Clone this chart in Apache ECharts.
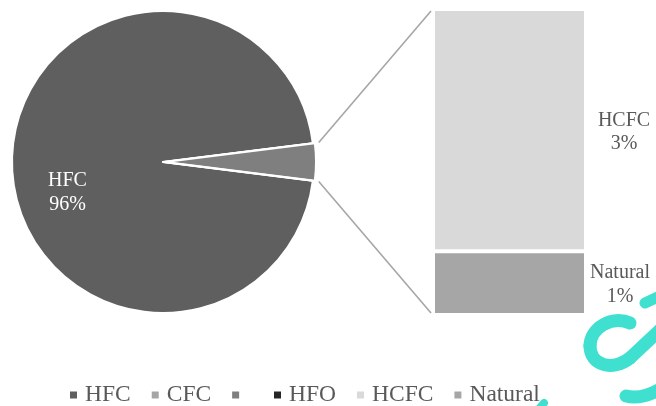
<!DOCTYPE html>
<html>
<head>
<meta charset="utf-8">
<script src="https://cdn.jsdelivr.net/npm/echarts@6/dist/echarts.min.js"></script>
<style>
  html, body { margin: 0; padding: 0; background: #ffffff; }
  #chart { width: 656px; height: 406px; }
</style>
</head>
<body>
<div id="chart"></div>
<script>
// Refrigerant shares (percent of total)
const pieNames = ['HFC', 'CFC', ' ', 'HFO'];
const hfcShare = 96.02;
const cfcShare = 0;
const hfoShare = 0;

// Breakdown of the combined slice, shown as the stacked column
const barNames = ['HCFC', 'Natural'];
const hcfcShare = 3.15;
const naturalShare = 0.83;

const legendOrder = ['HFC', 'CFC', ' ', 'HFO', 'HCFC', 'Natural'];

const colors = {
  'HFC': '#5f5f5f',
  'CFC': '#a5a5a5',
  ' ': '#7f7f7f',
  'HFO': '#262626',
  'HCFC': '#d9d9d9',
  'Natural': '#a6a6a6'
};

const otherShare = hcfcShare + naturalShare;
const total = hfcShare + cfcShare + otherShare + hfoShare;

// Layout
const pieCenter = [163, 162];
const pieRadius = 151;
const pieOffset = 2;
const barBorder = 2;
const grid = { left: 433, top: 9, width: 153, height: 306 };

const serif = '"Liberation Serif", "Times New Roman", serif';
const textGray = '#595959';

const halfAngle = (otherShare / total) * 180; // degrees each side of 3 o'clock

const pieValues = [hfcShare, cfcShare, otherShare, hfoShare];
const pieData = pieNames.map((name, i) => ({
  name: name,
  value: pieValues[i],
  selected: name === ' ',
  itemStyle: { color: colors[name] },
  label: { show: name === 'HFC' }
}));

const chart = echarts.init(document.getElementById('chart'), null, { renderer: 'canvas' });

// Connector lines from the combined slice to the column
const rad = halfAngle * Math.PI / 180;
const startR = pieRadius + 6;
const sx = pieCenter[0] + startR * Math.cos(rad);
const syTop = pieCenter[1] - startR * Math.sin(rad);
const syBot = pieCenter[1] + startR * Math.sin(rad);
const barLeft = grid.left + barBorder;
const barTop = grid.top + barBorder;
const barBottom = grid.top + grid.height - barBorder;

const teal = '#40e0d0';
const markStroke = w => ({ stroke: teal, lineWidth: w, lineCap: 'round', fill: null });

const barLabel = (distance, lineHeight) => ({
  show: true,
  position: 'right',
  distance: distance,
  offset: [0, 2],
  align: 'center',
  verticalAlign: 'middle',
  fontFamily: serif,
  fontSize: 20,
  lineHeight: lineHeight,
  color: textGray,
  formatter: p => p.seriesName + '\n' + Math.round(p.value / total * 100) + '%'
});

chart.setOption({
  animation: false,
  backgroundColor: '#ffffff',
  textStyle: { fontFamily: serif },
  legend: {
    data: legendOrder,
    left: 70,
    top: 383,
    padding: 0,
    itemWidth: 7,
    itemHeight: 7,
    itemGap: 21,
    icon: 'rect',
    selectedMode: false,
    itemStyle: { borderWidth: 0 },
    textStyle: {
      fontFamily: serif,
      fontSize: 23.5,
      color: textGray,
      lineHeight: 24,
      padding: [0, 0, 0, 3]
    }
  },
  grid: grid,
  xAxis: { type: 'category', data: ['other'], show: false },
  yAxis: { type: 'value', min: 0, max: otherShare, show: false },
  series: [
    {
      type: 'pie',
      center: pieCenter,
      radius: pieRadius,
      startAngle: -halfAngle,
      clockwise: true,
      selectedMode: 'single',
      selectedOffset: pieOffset,
      stillShowZeroSum: true,
      itemStyle: { borderColor: '#ffffff', borderWidth: 2 },
      label: {
        position: 'inside',
        fontFamily: serif,
        fontSize: 20,
        lineHeight: 24,
        color: '#ffffff',
        formatter: p => p.name + '\n' + Math.round(p.value / total * 100) + '%'
      },
      labelLayout: { dx: -17, dy: 31 },
      labelLine: { show: false },
      emphasis: { disabled: true },
      data: pieData
    },
    {
      name: 'Natural',
      type: 'bar',
      stack: 'other',
      barWidth: '100%',
      itemStyle: { color: colors['Natural'], borderColor: '#ffffff', borderWidth: barBorder },
      label: barLabel(34, 24),
      emphasis: { disabled: true },
      data: [naturalShare]
    },
    {
      name: 'HCFC',
      type: 'bar',
      stack: 'other',
      barWidth: '100%',
      itemStyle: { color: colors['HCFC'], borderColor: '#ffffff', borderWidth: barBorder },
      label: barLabel(38, 23),
      emphasis: { disabled: true },
      data: [hcfcShare]
    }
  ],
  graphic: [
    {
      type: 'line',
      shape: { x1: sx, y1: syTop, x2: barLeft - 4, y2: barTop },
      style: { stroke: '#a6a6a6', lineWidth: 1.6 },
      silent: true
    },
    {
      type: 'line',
      shape: { x1: sx, y1: syBot, x2: barLeft - 4, y2: barBottom },
      style: { stroke: '#a6a6a6', lineWidth: 1.6 },
      silent: true
    },
    // site mark in the lower right corner
    {
      type: 'group',
      silent: true,
      z: 100,
      children: [
        {
          type: 'bezierCurve',
          shape: { x1: 630, y1: 323, cpx1: 612, cpy1: 315, cpx2: 590, cpy2: 328, x2: 590, y2: 346 },
          style: markStroke(13)
        },
        {
          type: 'bezierCurve',
          shape: { x1: 590, y1: 346, cpx1: 590, cpy1: 365, cpx2: 612, cpy2: 372, x2: 630, y2: 358 },
          style: markStroke(13)
        },
        {
          type: 'line',
          shape: { x1: 630, y1: 358, x2: 662, y2: 328 },
          style: markStroke(13)
        },
        {
          type: 'line',
          shape: { x1: 645, y1: 303, x2: 662, y2: 295 },
          style: markStroke(11)
        },
        {
          type: 'bezierCurve',
          shape: { x1: 626, y1: 396, cpx1: 642, cpy1: 400, x2: 662, y2: 388 },
          style: markStroke(13)
        },
        {
          type: 'line',
          shape: { x1: 538, y1: 410, x2: 544, y2: 403 },
          style: markStroke(8)
        }
      ]
    }
  ]
});
</script>
</body>
</html>
